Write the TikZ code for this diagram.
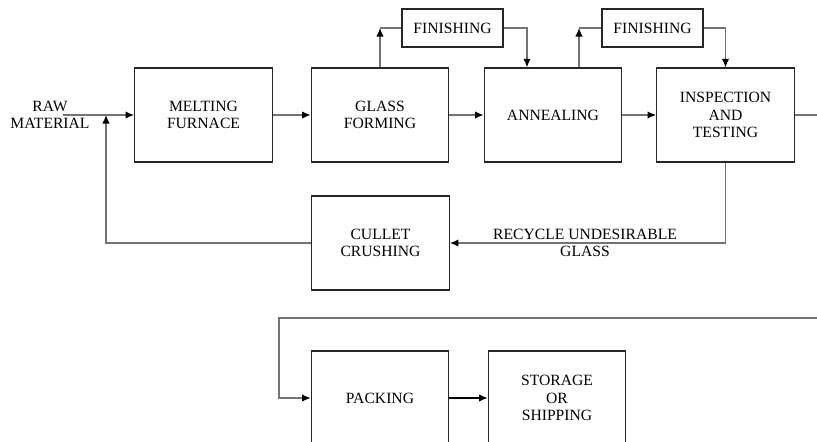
\documentclass[tikz,border=0pt]{standalone}
\usepackage{fontspec}
\setmainfont{Liberation Serif}
\usepackage{tikz}
\usetikzlibrary{arrows.meta}

\begin{document}
\begin{tikzpicture}[line width=0.7pt,
   font=\fontsize{8.9}{10}\selectfont,
   box_style/.style={rectangle, draw=black!85, line width=0.8pt, align=center, inner sep=0pt,
                     minimum width=2.75cm, minimum height=1.88cm},
   fin_style/.style={rectangle, draw=black!85, line width=0.8pt, inner sep=0pt,
                     minimum width=2.02cm, minimum height=0.76cm},
   line_style/.style={draw=black!55},
   arrow_style/.style={draw=black!55, -{Latex[length=1.7mm,width=1.5mm,color=black]}}]
	\useasboundingbox (0,0) rectangle (16.34,8.82);

	\node [align=center] (raw) at (1.00,6.52) {RAW\\MATERIAL};
	\coordinate (rawin) at (1.26,6.52);
	\coordinate (jn) at (2.12,6.52);
	\node [box_style] (melt)   at (4.07,6.52)  {MELTING\\FURNACE};
	\node [box_style] (glass)  at (7.60,6.52)  {GLASS\\FORMING};
	\node [box_style] (anneal) at (11.06,6.52) {ANNEALING};
	\node [box_style] (insp)   at (14.51,6.52) {INSPECTION\\AND\\TESTING};
	\coordinate (outR) at (16.34,6.52);

	\node [fin_style] (fin1) at (9.05,8.26)  {FINISHING};
	\node [fin_style] (fin2) at (13.05,8.26) {FINISHING};
	\coordinate (up1) at (7.60,8.26);
	\coordinate (dn1) at (10.54,8.26);
	\coordinate (up2) at (11.58,8.26);

	\node [box_style] (cullet) at (7.61,3.96) {CULLET\\CRUSHING};
	\node [align=center] (recy) at (11.70,3.96) {RECYCLE UNDESIRABLE\\GLASS};

	\coordinate (inR) at (16.34,2.46);
	\coordinate (bl) at (5.58,2.46);
	\node [box_style] (pack)  at (7.60,0.86)  {PACKING};
	\node [box_style] (store) at (11.14,0.86) {STORAGE\\OR\\SHIPPING};

	% main line
	\foreach \from/\to in {rawin/melt, melt/glass, glass/anneal, anneal/insp}
	  \draw [arrow_style] (\from) -- (\to);
	\draw [line_style] (insp) -- (outR);

	% finishing loops
	\draw [arrow_style] (glass.north) -- (up1);
	\draw [line_style] (up1) -- (fin1);
	\draw [arrow_style] (fin1.east) -- (dn1) -- (dn1 |- anneal.north);
	\draw [arrow_style] (up2 |- anneal.north) -- (up2);
	\draw [line_style] (up2) -- (fin2);
	\draw [arrow_style] (fin2.east) -| (insp.north);

	% recycle
	\draw [arrow_style] (insp.south) |- (cullet.east);
	\draw [arrow_style] (cullet.west) -| (jn);

	% packing
	\draw [arrow_style] (inR) -- (bl) |- (pack.west);
	\draw [arrow_style, draw=black] (pack) -- (store);
\end{tikzpicture}
\end{document}
